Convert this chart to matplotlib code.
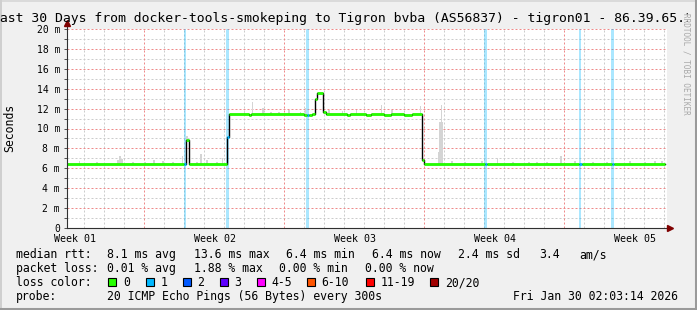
import numpy as np
import matplotlib
matplotlib.use('Agg')
import matplotlib.pyplot as plt
from matplotlib.lines import Line2D
from matplotlib.patches import Rectangle
from matplotlib.transforms import Bbox

W, H = 697, 310

# median rtt as steps: start (days from left edge), value (ms), loss class
seg_start = [0.0, 5.85, 5.95, 6.1, 7.98, 8.08, 9.1, 9.2, 11.85, 11.98,
             12.1, 12.23, 12.42, 12.48, 12.82, 12.95, 13.98, 14.15, 14.95,
             15.18, 15.85, 16.18, 16.85, 17.23, 17.73, 17.85, 20.88, 21.0,
             25.6, 25.73, 27.23, 27.35]
seg_median = [6.4, 6.4, 8.8, 6.4, 9.1, 11.5, 11.4, 11.5, 11.4, 11.4,
              11.4, 11.5, 13.0, 13.6, 11.7, 11.5, 11.4, 11.5, 11.4,
              11.5, 11.4, 11.5, 11.4, 11.5, 6.8, 6.4, 6.4, 6.4,
              6.4, 6.4, 6.4, 6.4]
seg_loss = [0, 1, 0, 0, 1, 0, 0, 0, 0, 1,
            0, 0, 0, 0, 0, 0, 0, 0, 0,
            0, 0, 0, 0, 0, 0, 0, 1, 0,
            1, 0, 1, 0]
data_end = 29.9

# loss background marks (days)
loss_bg_day = [5.9, 8.03, 12.02, 20.93, 25.65, 27.28]

# smoke (highest ping) above the median
smoke_day = [0.62, 1.5, 2.55, 2.65, 2.75, 3.3, 3.9, 4.35, 4.8, 5.3, 5.78,
             5.97, 6.03, 6.5, 6.7, 7.0, 7.5, 7.78, 8.88, 9.27, 9.8, 10.2,
             10.6, 11.1, 11.68, 11.93, 13.1, 13.78, 14.48, 15.72, 16.25,
             17.68, 18.58, 18.63, 18.68, 18.73, 18.78, 19.25, 19.9, 20.75,
             21.52, 22.3, 23.1, 23.5, 24.0, 24.7, 25.4, 26.3, 27.0, 28.15,
             28.9, 29.4, 29.75]
smoke_top = [6.7, 6.6, 6.8, 7.2, 6.9, 6.6, 6.6, 6.8, 6.7, 6.6, 7.2,
             9.2, 9.2, 6.6, 7.4, 6.8, 6.6, 7.0, 11.8, 12.7, 12.1, 11.7,
             11.7, 11.9, 11.7, 12.1, 11.9, 11.8, 11.9, 12.4, 11.9,
             12.3, 7.6, 10.7, 10.7, 12.4, 10.7, 6.7, 6.6, 6.7,
             7.0, 6.6, 6.6, 6.6, 6.6, 7.2, 6.7, 6.6, 6.6, 6.7,
             6.6, 6.7, 6.7]

week_labels = ['Week 01', 'Week 02', 'Week 03', 'Week 04', 'Week 05']
week_day = [0.4, 7.4, 14.4, 21.4, 28.4]

y_ticks = [0, 2, 4, 6, 8, 10, 12, 14, 16, 18, 20]
y_ticklabels = ['0', '2 m', '4 m', '6 m', '8 m', '10 m', '12 m', '14 m',
                '16 m', '18 m', '20 m']

loss_names = ['0', '1', '2', '3', '4-5', '6-10', '11-19', '20/20']
loss_colors = ['#26ff00', '#00b8ff', '#0059ff', '#5e00ff', '#ff00ff',
               '#ff5500', '#ff0000', '#a00000']

title = ('Last 30 Days from docker-tools-smokeping to Tigron bvba (AS56837)'
         ' - tigron01 - 86.39.65.1')
row_rtt = ['median rtt:', '8.1 ms avg', '13.6 ms max', '6.4 ms min',
           '6.4 ms now', '2.4 ms sd', '3.4', 'am/s']
row_loss = ['packet loss:', '0.01 % avg', '1.88 % max', '0.00 % min',
            '0.00 % now']
row_probe = ['probe:', '20 ICMP Echo Pings (56 Bytes) every 300s',
             'Fri Jan 30 02:03:14 2026']

# layout (pixels from top-left)
rtt_x = [16, 107, 194, 286, 372, 458, 539, 579]
loss_x = [16, 107, 194, 279, 365]
probe_x = [16, 107, 513]
box_x = [108, 145.5, 182.5, 219.5, 256.5, 306.5, 365.5, 430]

MONO = 'DejaVu Sans Mono'
BG = '#f0f0f0'


def fx(x):
    return x / W


def fy(y):
    return 1 - y / H


fig = plt.figure(figsize=(W / 100, H / 100), dpi=100, facecolor=BG)
ax = fig.add_axes([fx(67), fy(228), 600 / W, 199 / H])
ax.set_facecolor('white')
ax.set_xlim(0, 30)
ax.set_ylim(0, 20)

# grid
dots = (0, (2, 2))
major_v = [3.85 + 7 * k for k in range(4)]
for k in range(30):
    d = 0.85 + k
    if any(abs(d - m) < 0.01 for m in major_v):
        continue
    ax.axvline(d, color='#cccccc', lw=0.72, ls=dots, zorder=1)
for m in major_v:
    ax.axvline(m, color='#ee8a8a', lw=0.72, ls=dots, zorder=1.1)
for v in range(1, 21):
    if v % 2:
        ax.axhline(v, color='#cccccc', lw=0.72, ls=dots, zorder=1)
    else:
        ax.axhline(v, color='#ee8a8a', lw=0.72, ls=dots, zorder=1.1)

# loss background
for d in loss_bg_day:
    ax.axvspan(d - 0.06, d + 0.06, color=loss_colors[1], alpha=0.33,
               lw=0, zorder=1.5)

# smoke
starts = np.array(seg_start)
meds = np.array(seg_median)
idx = np.searchsorted(starts, np.array(smoke_day), side='right') - 1
base = meds[idx]
ax.bar(smoke_day, np.array(smoke_top) - base, bottom=base, width=0.08,
       color='#d4d4d4', lw=0, zorder=2)

# median: black connecting steps, then loss-coloured segments
ax.step(seg_start + [data_end], seg_median + [seg_median[-1]], where='post',
        color='black', lw=1.0, zorder=3)
ends = seg_start[1:] + [data_end]
hl = ax.hlines(seg_median, seg_start, ends,
               colors=[loss_colors[c] for c in seg_loss], lw=2.0, zorder=4)
hl.set_capstyle('butt')

# axes
for s in ['top', 'right', 'left', 'bottom']:
    ax.spines[s].set_visible(False)
ax.plot([0, 0], [0, 20.6], color='#303030', lw=0.8, clip_on=False, zorder=5)
ax.plot([0, 30.1], [0, 0], color='#303030', lw=0.8, clip_on=False, zorder=5)
ax.plot([0], [20.6], marker='^', color='#7f0000', ms=4, clip_on=False,
        zorder=6)
ax.plot([30.15], [0], marker='>', color='#7f0000', ms=4, clip_on=False,
        zorder=6)

ax.set_xticks([])
ax.set_yticks(y_ticks)
ax.set_yticklabels(y_ticklabels, family=MONO, fontsize=7)
ax.set_yticks(range(1, 20, 2), minor=True)
ax.tick_params(axis='y', which='both', direction='out', length=2,
               width=0.7, color='#505050', pad=3)

for lab, d in zip(week_labels, week_day):
    ax.text(d, -0.6, lab, ha='center', va='top', family=MONO, fontsize=7.2)

# texts
t = fig.text(fx(-7.9), fy(22), title, ha='left', va='baseline', family=MONO,
             fontsize=9.45)
t.set_clip_box(Bbox([[0, 0], [688, H]]))
t.set_clip_on(True)
fig.text(fx(10), fy(128), 'Seconds', rotation=90, ha='center', va='center',
         family=MONO, fontsize=8.3)
fig.text(fx(686), fy(13), 'RRDTOOL / TOBI OETIKER', rotation=270,
         ha='center', va='top', family=MONO, fontsize=5.5, color='#a8a8a8')

for txt, x in zip(row_rtt, rtt_x):
    fig.text(fx(x), fy(258), txt, ha='left', va='baseline', family=MONO,
             fontsize=8.3)
for txt, x in zip(row_loss, loss_x):
    fig.text(fx(x), fy(272), txt, ha='left', va='baseline', family=MONO,
             fontsize=8.3)
fig.text(fx(16), fy(286), 'loss color:', ha='left', va='baseline',
         family=MONO, fontsize=8.3)
for name, col, x in zip(loss_names, loss_colors, box_x):
    fig.add_artist(Rectangle((fx(x), fy(286)), 8 / W, 8.5 / H,
                             transform=fig.transFigure, facecolor=col,
                             edgecolor='black', lw=0.8))
    fig.text(fx(x + 15), fy(286), name, ha='left', va='baseline',
             family=MONO, fontsize=8.3)
for txt, x in zip(row_probe, probe_x):
    fig.text(fx(x), fy(300), txt, ha='left', va='baseline', family=MONO,
             fontsize=8.3)

# 3d frame
fig.add_artist(Line2D([0, 1], [fy(0.7), fy(0.7)], transform=fig.transFigure,
                      color='#dadada', lw=1.4))
fig.add_artist(Line2D([fx(0.7), fx(0.7)], [0, 1], transform=fig.transFigure,
                      color='#cfcfcf', lw=1.4))
fig.add_artist(Line2D([0, 1], [fy(308.5), fy(308.5)],
                      transform=fig.transFigure, color='#9a9a9a', lw=2.2))
fig.add_artist(Line2D([fx(695.5), fx(695.5)], [0, 1],
                      transform=fig.transFigure, color='#9a9a9a', lw=2.2))

fig.savefig('out.png', dpi=100, facecolor=BG)
